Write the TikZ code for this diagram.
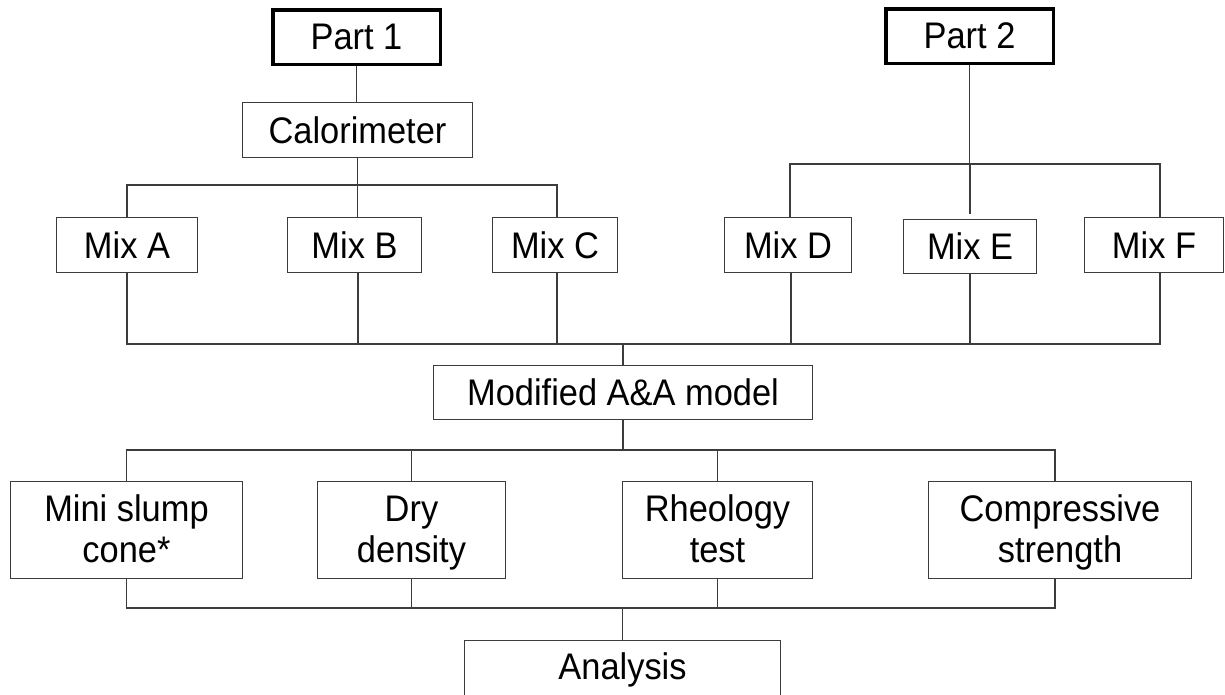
\documentclass[tikz,border=0pt]{standalone}
\usepackage{fontspec}
\setmainfont{Liberation Sans}[FakeStretch=0.93]
\definecolor{linec}{HTML}{3C3C3C}
\newcommand{\lnstrut}{\rule[-7.6pt]{0pt}{39.6pt}}
\begin{document}
\begin{tikzpicture}[x=1pt,y=-1pt,
  box/.style={draw=linec, line width=1.2pt, inner sep=0pt, align=center,
    font=\fontsize{37}{41}\selectfont, text=black},
  partbox/.style={box, draw=black, line width=3.5pt},
  conn/.style={draw=linec, line width=1.2pt}]
\useasboundingbox (0,0) rectangle (1225,694);
\clip (0,0) rectangle (1225,694);
% top level
\node[partbox, minimum width=167.5pt, minimum height=54.5pt] (p1) at (356.5,37) {Part 1};
\node[partbox, minimum width=167.5pt, minimum height=54.5pt] (p2) at (969.5,36) {Part 2};
\node[box, minimum width=230pt, minimum height=55pt] (cal) at (357.5,130) {Calorimeter};
% mixes
\node[box, minimum width=141pt, minimum height=55pt] (mixA) at (127,245) {Mix A};
\node[box, minimum width=134pt, minimum height=55pt] (mixB) at (354.5,245) {Mix B};
\node[box, minimum width=125pt, minimum height=55pt] (mixC) at (555,245) {Mix C};
\node[box, minimum width=127pt, minimum height=55pt] (mixD) at (788,245) {Mix D};
\node[box, minimum width=133pt, minimum height=54pt] (mixE) at (970,246.5) {Mix E};
\node[box, minimum width=139pt, minimum height=55pt] (mixF) at (1154,245) {Mix F};
% model
\node[box, minimum width=379pt, minimum height=54pt] (mod) at (623,392.5) {Modified A\&A model};
% tests
\node[box, minimum width=232pt, minimum height=97pt] (slump) at (126.5,530) {\lnstrut Mini slump\\\lnstrut cone*};
\node[box, minimum width=188pt, minimum height=97pt] (dry) at (411.5,530) {\lnstrut Dry\\\lnstrut density};
\node[box, minimum width=190pt, minimum height=97pt] (rheo) at (717.5,530) {\lnstrut Rheology\\\lnstrut test};
\node[box, minimum width=263pt, minimum height=97pt] (comp) at (1060,530) {\lnstrut Compressive\\\lnstrut strength};
% analysis
\node[box, anchor=north, minimum width=316pt, text height=39.4pt, text depth=45pt] (ana) at (622.5,639.6) {Analysis};
% bus coordinates
\coordinate (bus1) at (0,185);
\coordinate (bus2) at (0,164);
\coordinate (bus3) at (0,344);
\coordinate (bus4) at (0,450);
\coordinate (bus5) at (0,608);
% part 1 branch
\draw[conn] (p1.south) -- (p1.south |- cal.north);
\draw[conn] (cal.south) -- (cal.south |- bus1);
\draw[conn] (mixA.north) |- ([xshift=2pt]mixC.north |- bus1) -- ([xshift=2pt]mixC.north);
\draw[conn] ([xshift=3pt]mixB.north) -- ([xshift=3pt]mixB.north |- bus1);
% part 2 branch
\draw[conn] (p2.south) -- (p2.south |- bus2);
\draw[conn] ([xshift=2pt]mixD.north) |- ([xshift=6pt]mixF.north |- bus2) -- ([xshift=6pt]mixF.north);
\draw[conn] (mixE.north |- bus2) -- ([yshift=5pt]mixE.north);
% mixes to model
\draw[conn] (mixA.south) |- ([xshift=6pt]mixF.south |- bus3) -- ([xshift=6pt]mixF.south);
\draw[conn] ([xshift=3.5pt]mixB.south) -- ([xshift=3.5pt]mixB.south |- bus3);
\draw[conn] ([xshift=2pt]mixC.south) -- ([xshift=2pt]mixC.south |- bus3);
\draw[conn] ([xshift=3pt]mixD.south) -- ([xshift=3pt]mixD.south |- bus3);
\draw[conn] (mixE.south) -- (mixE.south |- bus3);
\draw[conn] (mod.north) -- (mod.north |- bus3);
% model to tests
\draw[conn] (mod.south) -- (mod.south |- bus4);
\draw[conn] (slump.north) |- ([xshift=-5pt]comp.north |- bus4) -- ([xshift=-5pt]comp.north);
\draw[conn] (dry.north) -- (dry.north |- bus4);
\draw[conn] (rheo.north) -- (rheo.north |- bus4);
% tests to analysis
\draw[conn] (slump.south) |- ([xshift=-5pt]comp.south |- bus5) -- ([xshift=-5pt]comp.south);
\draw[conn] (dry.south) -- (dry.south |- bus5);
\draw[conn] (rheo.south) -- (rheo.south |- bus5);
\draw[conn] (ana.north) -- (ana.north |- bus5);
\end{tikzpicture}
\end{document}
